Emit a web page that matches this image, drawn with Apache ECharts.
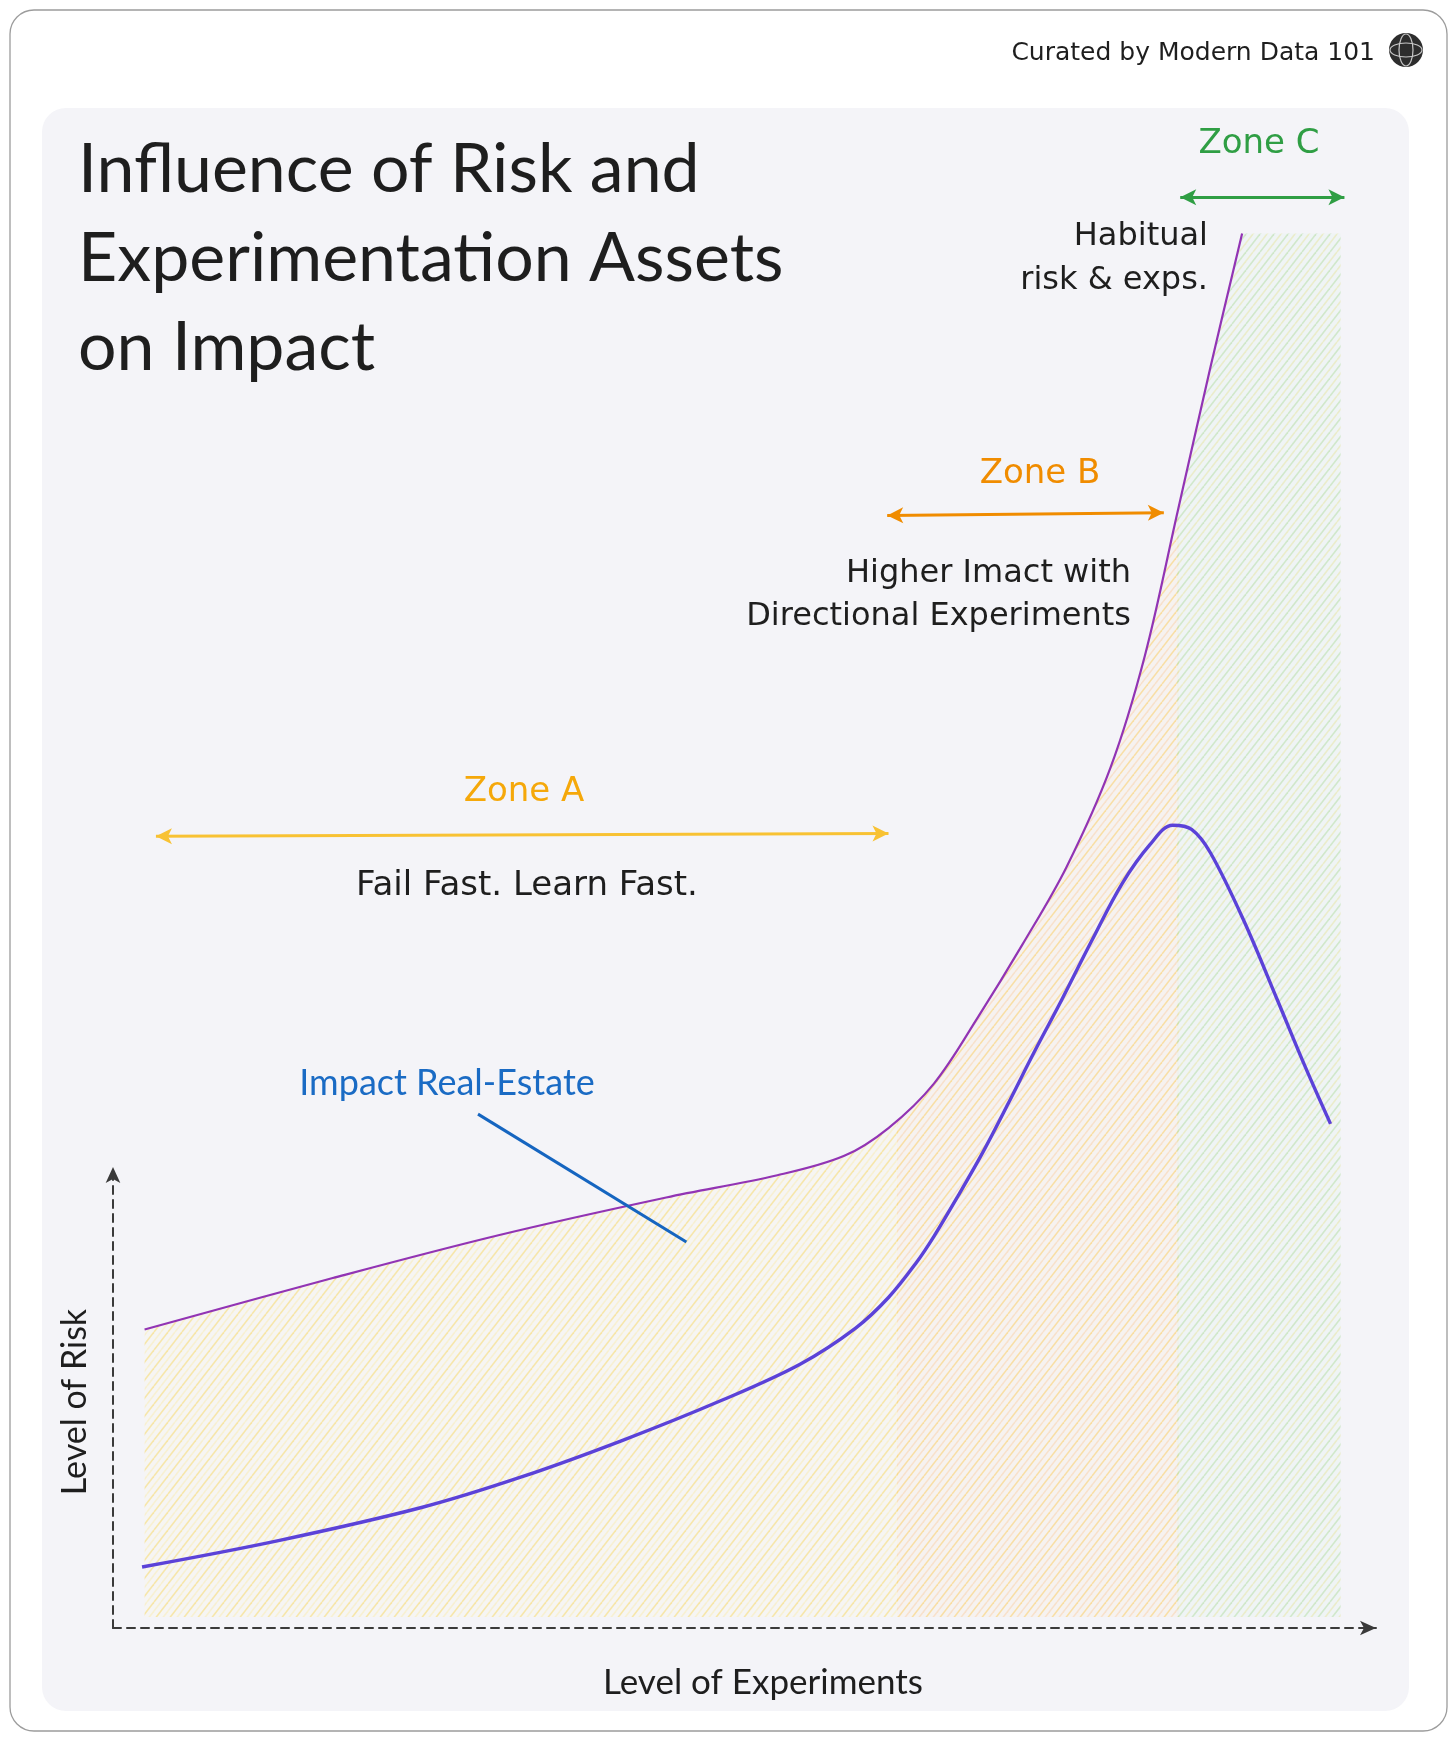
<!DOCTYPE html>
<html>
<head>
<meta charset="utf-8">
<script src="https://cdn.jsdelivr.net/npm/echarts@6/dist/echarts.min.js"></script>
<style>
html,body{margin:0;padding:0;background:#ffffff;}
#chart{width:1456px;height:1742px;}
</style>
</head>
<body>
<div id="chart"></div>
<script>
// ---- data (x: level of experiments 0-100, y: level 0-110) ----
const riskCurve = [[2.5,20.7],[17.4,24.4],[30.6,27.5],[43.8,30.2],[52.6,31.8],[57.9,33.2],[61.4,35.2],[65.0,38.4],[68.5,43.2],[72.0,48.4],[75.5,54.0],[79.0,61.2],[81.7,69.2],[84.3,79.6],[86.9,90.0],[89.4,99.6]];
const impactCurve = [[2.3,3.6],[13.1,5.5],[24.5,7.9],[32.4,10.1],[40.3,12.7],[48.2,15.6],[54.4,18.2],[58.8,20.8],[61.4,23.0],[63.6,25.5],[65.0,27.4],[66.9,30.3],[68.9,33.5],[70.9,37.0],[72.9,40.6],[75.1,44.4],[77.5,48.7],[79.9,52.8],[82.1,55.6],[83.9,57.0],[85.4,56.7],[86.9,55.0],[89.6,50.0],[92.2,44.4],[94.4,39.6],[96.4,35.5]];
const zoneBounds = [2.5, 62.1, 84.3, 97.2];   // Zone A | Zone B | Zone C edges on the x scale
const zoneCTop = [[89.4,99.6],[97.2,99.6]];    // flat top of the Zone C band right of the risk curve
const zoneArrows = [
  {name:'Zone A', from:[3.4,56.2], to:[61.4,56.4], color:'#f8c233'},
  {name:'Zone B', from:[61.3,79.3], to:[83.2,79.5], color:'#f08c00'},
  {name:'Zone C', from:[84.5,102.2], to:[97.5,102.2], color:'#2f9e44'}
];
const pointerLine = [[28.9,36.2],[45.4,27.0]];
const titleLines = ['Influence of Risk and','Experimentation Assets','on Impact'];

// plot layout (pixels)
const W = 1456, PL = 113, PR = 80, PT = 89, PB = 125;
const XMAX = 100, YMAX = 110;
const pxPerX = (W - PL - PR) / XMAX;
function gridFor(x0, x1) { return {left: PL + x0 * pxPerX, right: W - (PL + x1 * pxPerX), top: PT, bottom: PB}; }

function hatch(c1, c2, bg) {
  const cv = document.createElement('canvas');
  cv.width = 14; cv.height = 18;
  const g = cv.getContext('2d');
  g.fillStyle = bg; g.fillRect(0,0,14,18);
  g.lineWidth = 1.6;
  [[-14,c1],[-7,c2],[0,c1],[7,c2],[14,c1]].forEach(function(p){
    g.strokeStyle = p[1]; g.beginPath(); g.moveTo(p[0],18); g.lineTo(p[0]+14,0); g.stroke();
  });
  return cv;
}
const patA = hatch('rgba(247,220,120,0.60)','rgba(250,234,170,0.45)','rgba(252,248,228,0.25)');
const patB = hatch('rgba(248,210,120,0.62)','rgba(248,204,160,0.45)','rgba(251,238,222,0.30)');
const patC = hatch('rgba(184,222,168,0.55)','rgba(230,228,150,0.45)','rgba(225,242,235,0.25)');
const pats = [patA, patB, patC];

const chart = echarts.init(document.getElementById('chart'), null, {renderer:'canvas'});
const hand = '"DejaVu Sans", sans-serif';
const ink = '#1e1e1e';
const SMOOTH = 0.35;

const grids = [
  {left:PL, right:PR, top:PT, bottom:PB},
  {left:PL, right:PR, top:1167, bottom:114}
];
const xAxes = [
  {type:'value', gridIndex:0, min:0, max:XMAX, show:false},
  {type:'value', gridIndex:1, min:0, max:1, axisLabel:{show:false}, axisTick:{show:false}, splitLine:{show:false},
   axisLine:{show:true, symbol:['none','arrow'], symbolSize:[11,16], lineStyle:{color:'#3a3a3a', width:2, type:[8,6]}}}
];
const yAxes = [
  {type:'value', gridIndex:0, min:0, max:YMAX, show:false},
  {type:'value', gridIndex:1, min:0, max:1, axisLabel:{show:false}, axisTick:{show:false}, splitLine:{show:false},
   axisLine:{show:true, symbol:['none','arrow'], symbolSize:[11,16], lineStyle:{color:'#3a3a3a', width:2, type:[8,6]}}}
];
const series = [];
// zone fills: same risk curve, clipped to each zone's x-range by its own grid
for (let i = 0; i < 3; i++) {
  const gi = grids.length;
  grids.push(gridFor(zoneBounds[i], zoneBounds[i+1]));
  xAxes.push({type:'value', gridIndex:gi, min:zoneBounds[i], max:zoneBounds[i+1], show:false});
  yAxes.push({type:'value', gridIndex:gi, min:0, max:YMAX, show:false});
  const ax = xAxes.length - 1;
  series.push({type:'line', xAxisIndex:ax, yAxisIndex:ax, data:riskCurve, smooth:SMOOTH, clip:true,
    symbol:'none', lineStyle:{width:0, opacity:0}, areaStyle:{color:{image:pats[i], repeat:'repeat'}, opacity:1},
    silent:true, z:1});
  if (i === 2) {
    series.push({type:'line', xAxisIndex:ax, yAxisIndex:ax, data:zoneCTop, smooth:false, clip:true,
      symbol:'none', lineStyle:{width:0, opacity:0}, areaStyle:{color:{image:pats[i], repeat:'repeat'}, opacity:1},
      silent:true, z:1});
  }
}
series.push(
  {type:'line', name:'Level of Risk', xAxisIndex:0, yAxisIndex:0, data:riskCurve, smooth:SMOOTH,
   symbol:'none', lineStyle:{color:'#9234b4', width:2.2}, z:3, silent:true,
   markLine:{silent:true, symbol:['arrow','arrow'], symbolSize:[12,16], label:{show:false},
     data: zoneArrows.map(function(a){return [{coord:a.from, lineStyle:{color:a.color, width:3, type:'solid'}}, {coord:a.to}];})
       .concat([[{coord:pointerLine[0], symbol:'none', lineStyle:{color:'#1565c0', width:3, type:'solid'}}, {coord:pointerLine[1], symbol:'none'}]])
   }},
  {type:'line', name:'Impact', xAxisIndex:0, yAxisIndex:0, data:impactCurve, smooth:SMOOTH,
   symbol:'none', lineStyle:{color:'#5b42d8', width:3.4}, z:4, silent:true},
  {type:'line', xAxisIndex:1, yAxisIndex:1, data:[], silent:true}
);

const option = {
  animation:false,
  backgroundColor:'transparent',
  title:{
    text: titleLines.join('\n'), left:78, top:126, padding:0,
    textStyle:{fontFamily:'Lato, sans-serif', fontSize:68, fontWeight:'normal', color:ink, lineHeight:89}
  },
  grid: grids,
  xAxis: xAxes,
  yAxis: yAxes,
  series: series,
  graphic:[
    {type:'rect', z:-10, shape:{x:10, y:10, width:1437, height:1721, r:24}, style:{fill:'#ffffff', stroke:'#9c9c9c', lineWidth:1.3}},
    {type:'rect', z:-9, shape:{x:42, y:108, width:1367, height:1603, r:24}, style:{fill:'#f4f4f8'}},
    // globe icon
    {type:'circle', z:50, shape:{cx:1406, cy:50, r:17}, style:{fill:'#2d2d2d'}},
    {type:'ellipse', z:51, shape:{cx:1406, cy:50, rx:7, ry:16}, style:{fill:'none', stroke:'#c8c8c8', lineWidth:1.2}},
    {type:'ellipse', z:51, shape:{cx:1406, cy:50, rx:16, ry:7}, style:{fill:'none', stroke:'#c8c8c8', lineWidth:1.2}},
    {type:'text', z:60, x:1375, y:53, style:{text:'Curated by Modern Data 101', font:'25px '+hand, fill:ink, align:'right', verticalAlign:'middle'}},
    {type:'text', z:60, x:1259, y:144, style:{text:'Zone C', font:'34px '+hand, fill:'#2f9e44', align:'center', verticalAlign:'middle'}},
    {type:'text', z:60, x:1208, y:237, style:{text:'Habitual', font:'32px '+hand, fill:ink, align:'right', verticalAlign:'middle'}},
    {type:'text', z:60, x:1208, y:281, style:{text:'risk & exps.', font:'32px '+hand, fill:ink, align:'right', verticalAlign:'middle'}},
    {type:'text', z:60, x:1040, y:474, style:{text:'Zone B', font:'34px '+hand, fill:'#f08c00', align:'center', verticalAlign:'middle'}},
    {type:'text', z:60, x:1131, y:574, style:{text:'Higher Imact with', font:'32px '+hand, fill:ink, align:'right', verticalAlign:'middle'}},
    {type:'text', z:60, x:1131, y:617, style:{text:'Directional Experiments', font:'32px '+hand, fill:ink, align:'right', verticalAlign:'middle'}},
    {type:'text', z:60, x:524, y:792, style:{text:'Zone A', font:'34px '+hand, fill:'#f5a80a', align:'center', verticalAlign:'middle'}},
    {type:'text', z:60, x:527, y:886, style:{text:'Fail Fast. Learn Fast.', font:'34px '+hand, fill:ink, align:'center', verticalAlign:'middle'}},
    {type:'text', z:60, x:447, y:1083, style:{text:'Impact Real-Estate', font:'36px Lato, sans-serif', fill:'#1a6bc4', align:'center', verticalAlign:'middle'}},
    {type:'text', z:60, x:763, y:1683, style:{text:'Level of Experiments', font:'35px Lato, sans-serif', fill:ink, align:'center', verticalAlign:'middle'}},
    {type:'text', z:60, x:75, y:1402, rotation:Math.PI/2, style:{text:'Level of Risk', font:'34px Lato, sans-serif', fill:ink, align:'center', verticalAlign:'middle'}}
  ]
};
chart.setOption(option);
</script>
</body>
</html>
